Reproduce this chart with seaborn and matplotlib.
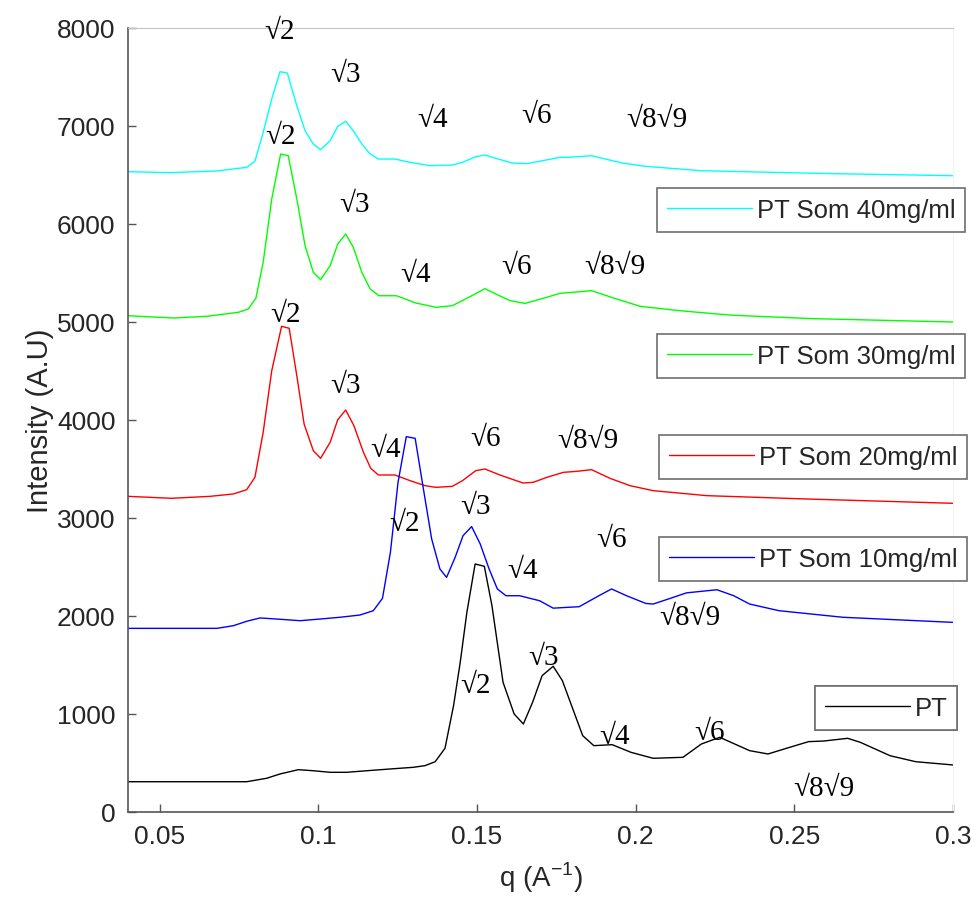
import matplotlib
matplotlib.use('Agg')
import matplotlib.pyplot as plt
from matplotlib.lines import Line2D
import numpy as np
import pandas as pd
import seaborn as sns

# --- data (q in 1/A, intensity in A.U) ---
q_pt = [0.040, 0.0774, 0.0837, 0.0879, 0.0937, 0.0984, 0.1037, 0.1089, 0.1152, 0.1226,
        0.1299, 0.1336, 0.1368, 0.1399, 0.1426, 0.1447, 0.1468, 0.1494, 0.1523, 0.1547,
        0.1582, 0.1617, 0.1646, 0.1675, 0.1705, 0.1740, 0.1769, 0.1798, 0.1833, 0.1868,
        0.1926, 0.1985, 0.2055, 0.2149, 0.2207, 0.2265, 0.2312, 0.2359, 0.2417, 0.2475,
        0.2545, 0.2592, 0.2668, 0.2708, 0.2802, 0.2883, 0.300]
i_pt = [309, 309, 344, 388, 432, 421, 405, 405, 421, 439,
        456, 473, 513, 650, 1085, 1527, 2038, 2531, 2507, 2105,
        1323, 1000, 898, 1119, 1391, 1487, 1340, 1085, 779, 677,
        687, 609, 548, 558, 694, 762, 694, 626, 592, 650,
        718, 724, 752, 711, 574, 513, 480]

q_10 = [0.040, 0.0680, 0.0732, 0.0774, 0.0816, 0.0869, 0.0942, 0.1005, 0.1068, 0.1131,
        0.1173, 0.1202, 0.1227, 0.1251, 0.1277, 0.1305, 0.1331, 0.1357, 0.1383, 0.1404,
        0.1431, 0.1456, 0.1483, 0.1510, 0.1538, 0.1564, 0.1591, 0.1634, 0.1697, 0.1740,
        0.1822, 0.1888, 0.1924, 0.1971, 0.2032, 0.2055, 0.2109, 0.2160, 0.2256, 0.2309,
        0.2359, 0.2452, 0.2653, 0.300]
i_10 = [1874, 1874, 1901, 1946, 1980, 1969, 1952, 1969, 1987, 2010,
        2054, 2180, 2650, 3364, 3830, 3813, 3296, 2786, 2480, 2394,
        2599, 2820, 2912, 2735, 2480, 2276, 2207, 2207, 2156, 2080,
        2095, 2214, 2276, 2207, 2128, 2122, 2180, 2236, 2268, 2207,
        2122, 2054, 1987, 1935]

q_20 = [0.040, 0.0537, 0.0658, 0.0732, 0.0774, 0.0800, 0.0826, 0.0853, 0.0884, 0.0908,
        0.0932, 0.0955, 0.0984, 0.1007, 0.1037, 0.1061, 0.1086, 0.1112, 0.1142, 0.1165,
        0.1189, 0.1241, 0.1289, 0.1336, 0.1370, 0.1422, 0.1454, 0.1496, 0.1525, 0.1572,
        0.1645, 0.1677, 0.1720, 0.1772, 0.1814, 0.1861, 0.1919, 0.1982, 0.2055, 0.2224,
        0.2539, 0.300]
i_20 = [3221, 3201, 3221, 3245, 3289, 3415, 3874, 4503, 4956, 4936,
        4452, 3959, 3687, 3609, 3772, 4003, 4102, 3942, 3670, 3507,
        3439, 3439, 3381, 3330, 3313, 3323, 3381, 3483, 3500, 3439,
        3357, 3364, 3415, 3466, 3476, 3493, 3405, 3330, 3279, 3228,
        3194, 3150]

q_30 = [0.040, 0.0543, 0.0648, 0.0748, 0.0779, 0.0803, 0.0826, 0.0853, 0.0881, 0.0905,
        0.0932, 0.0958, 0.0984, 0.1007, 0.1037, 0.1061, 0.1086, 0.1110, 0.1137, 0.1163,
        0.1191, 0.1246, 0.1307, 0.1370, 0.1422, 0.1464, 0.1525, 0.1559, 0.1604, 0.1651,
        0.1709, 0.1762, 0.1803, 0.1861, 0.1930, 0.2014, 0.2140, 0.2300, 0.2550, 0.300]
i_30 = [5064, 5041, 5058, 5099, 5133, 5242, 5609, 6255, 6714, 6697,
        6255, 5779, 5507, 5432, 5575, 5796, 5898, 5762, 5507, 5337,
        5268, 5268, 5194, 5150, 5166, 5235, 5340, 5286, 5218, 5190,
        5242, 5293, 5303, 5320, 5245, 5160, 5115, 5070, 5035, 5000]

q_40 = [0.040, 0.0532, 0.0680, 0.0774, 0.0800, 0.0826, 0.0853, 0.0879, 0.0902, 0.0932,
        0.0958, 0.0984, 0.1007, 0.1037, 0.1061, 0.1086, 0.1110, 0.1137, 0.1163, 0.1189,
        0.1241, 0.1289, 0.1352, 0.1422, 0.1454, 0.1496, 0.1525, 0.1559, 0.1611, 0.1658,
        0.1706, 0.1762, 0.1803, 0.1861, 0.1895, 0.1958, 0.2032, 0.2140, 0.2203, 0.2600,
        0.300]
i_40 = [6534, 6524, 6541, 6578, 6640, 6935, 7276, 7554, 7541, 7207,
        6952, 6816, 6758, 6850, 6997, 7048, 6952, 6816, 6714, 6663,
        6663, 6629, 6595, 6602, 6629, 6687, 6704, 6670, 6622, 6616,
        6646, 6680, 6683, 6697, 6670, 6622, 6588, 6561, 6544, 6515,
        6493]

labels = ['PT Som 40mg/ml', 'PT Som 30mg/ml', 'PT Som 20mg/ml', 'PT Som 10mg/ml', 'PT']
colors = ['#00FFFF', '#00FF00', '#FF0000', '#0000FF', '#000000']
series_q = [q_40, q_30, q_20, q_10, q_pt]
series_i = [i_40, i_30, i_20, i_10, i_pt]

# peak index labels and where they sit (q, intensity) for each curve
peak_names = ['√2', '√3', '√4', '√6', '√8√9']
peak_q = [
    [0.0879, 0.1084, 0.1361, 0.1686, 0.2067],
    [0.0882, 0.1115, 0.1305, 0.1626, 0.1935],
    [0.0898, 0.1084, 0.1213, 0.1528, 0.1850],
    [0.1273, 0.1494, 0.1645, 0.1925, 0.2171],
    [0.1494, 0.1711, 0.1932, 0.2234, 0.2593],
]
peak_i = [
    [7969, 7531, 7071, 7112, 7071],
    [6898, 6204, 5490, 5571, 5571],
    [5082, 4357, 3704, 3816, 3796],
    [2949, 3122, 2469, 2786, 1990],
    [1296, 1582, 776, 816, 245],
]

# legend box top-left corners (figure pixels)
legend_xy = [(657, 189), (657, 335), (659, 436), (659, 538), (815, 687)]

W, H = 975, 912
sns.set_style('ticks')
plt.rcParams['font.family'] = ['Liberation Sans', 'DejaVu Sans']

frames = []
for lab, qs, ins in zip(labels, series_q, series_i):
    frames.append(pd.DataFrame({'q': qs, 'I': ins, 'sample': lab}))
df = pd.concat(frames, ignore_index=True)

fig = plt.figure(figsize=(W / 100, H / 100), dpi=100)
ax = fig.add_axes([128 / W, 1 - 813 / H, (953 - 128) / W, (813 - 29) / H])

sns.lineplot(data=df, x='q', y='I', hue='sample', hue_order=labels,
             palette=dict(zip(labels, colors)), estimator=None, sort=False,
             linewidth=1.0, legend=False, ax=ax)

ax.set_xlim(0.04, 0.3)
ax.set_ylim(0, 8000)
ax.set_xticks([0.05, 0.1, 0.15, 0.2, 0.25, 0.3])
ax.set_xticklabels(['0.05', '0.1', '0.15', '0.2', '0.25', '0.3'])
ax.set_yticks(range(0, 8001, 1000))
ax.tick_params(direction='in', length=6, width=1, color='#555555',
               labelsize=19, labelcolor='#262626', pad=9)
ax.set_xlabel('q (A$^{\\mathregular{-1}}$)', fontsize=20, color='#262626', labelpad=8)
ax.set_ylabel('Intensity (A.U)', fontsize=21, color='#262626', labelpad=2)
for side in ['left', 'bottom']:
    ax.spines[side].set_color('#555555')
    ax.spines[side].set_linewidth(1.2)
ax.spines['top'].set_color('#c4c4c4')
ax.spines['right'].set_color('#f2f2f2')

for names_q, names_i in zip(peak_q, peak_i):
    for name, xq, yi in zip(peak_names, names_q, names_i):
        ax.text(xq, yi, name, ha='center', va='center', fontsize=21,
                family=['Liberation Serif', 'DejaVu Serif'], color='black')

for lab, col, (lx, ly) in zip(labels, colors, legend_xy):
    h = Line2D([], [], color=col, linewidth=1.0)
    leg = ax.legend([h], [lab], loc='upper left',
                    bbox_to_anchor=(lx / W, 1 - ly / H), bbox_transform=fig.transFigure,
                    borderaxespad=0, fontsize=18.5, frameon=True, fancybox=False,
                    handlelength=3.3, handletextpad=0.2, borderpad=0.38)
    leg.get_frame().set_edgecolor('#6e6e6e')
    leg.get_frame().set_linewidth(1.2)
    leg.get_frame().set_alpha(1)
    ax.add_artist(leg)

fig.savefig('out.png', dpi=100)
